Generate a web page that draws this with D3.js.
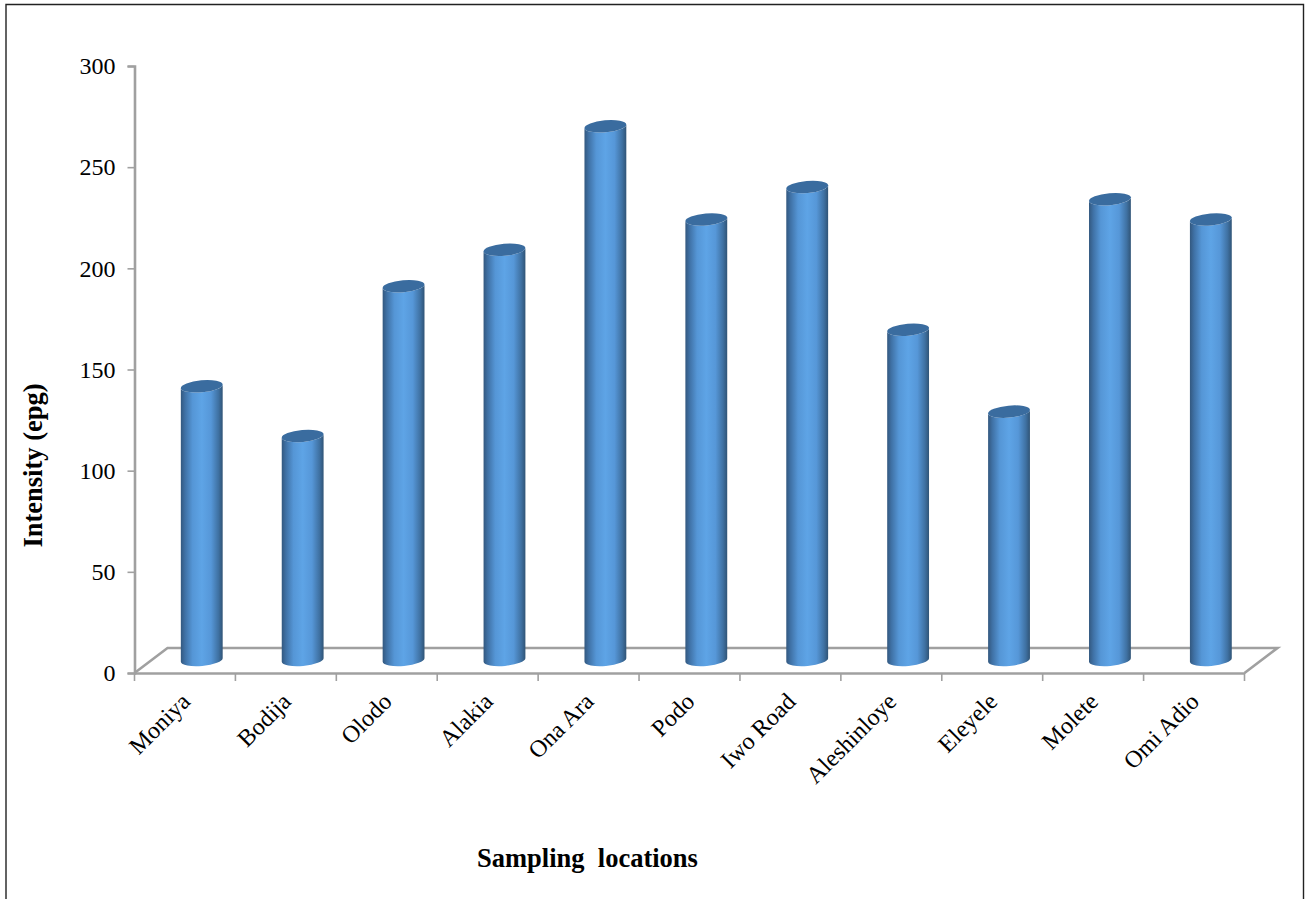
<!DOCTYPE html>
<html>
<head>
<meta charset="utf-8">
<script src="https://cdn.jsdelivr.net/npm/d3@7"></script>
<style>
  html, body { margin: 0; padding: 0; background: #fff; }
  svg { display: block; }
  text { font-family: "Liberation Serif", serif; fill: #000; }
</style>
</head>
<body>
<svg id="chart" width="1310" height="899"></svg>
<script>
const locations = ["Moniya", "Bodija", "Olodo", "Alakia", "Ona Ara", "Podo", "Iwo Road", "Aleshinloye", "Eleyele", "Molete", "Omi Adio"];
const intensity = [135.5, 111, 185, 203, 264, 218, 234, 163.5, 123, 228, 218];
const yTicks = [0, 50, 100, 150, 200, 250, 300];
const yAxisTitle = "Intensity (epg)";
const xAxisTitle = "Sampling\u00a0\u00a0locations";

const svg = d3.select("#chart");
const plot = { left: 134.5, right: 1244.5, top: 66, bottom: 673 };
const depth = { dx: 33, dy: -25 };
const grey = "#a0a0a0";

const x = d3.scaleBand().domain(locations).range([plot.left, plot.right]);
const y = d3.scaleLinear().domain([0, 300]).range([plot.bottom, plot.top]);

// Page frame: open at the bottom edge
svg.append("path")
  .attr("d", "M6,899V4.5H1303.5V899")
  .attr("fill", "none").attr("stroke", "#222").attr("stroke-width", 1.4);

// Horizontal shading that gives the columns their rounded look
const shade = svg.append("defs").append("linearGradient").attr("id", "cylinder");
[[0, "#33587f"], [0.1, "#3f71a5"], [0.28, "#5596d6"], [0.5, "#5ea4e6"], [0.72, "#5697d8"], [0.9, "#3f71a2"], [1, "#305476"]]
  .forEach(([o, c]) => shade.append("stop").attr("offset", o).attr("stop-color", c));

// Floor of the 3D plot
const floor = d3.path();
floor.moveTo(plot.left, plot.bottom);
floor.lineTo(plot.left + depth.dx, plot.bottom + depth.dy);
floor.lineTo(plot.right + depth.dx, plot.bottom + depth.dy);
floor.lineTo(plot.right, plot.bottom);
svg.append("path").attr("d", floor.toString())
  .attr("fill", "none").attr("stroke", grey).attr("stroke-width", 2.6);

// Axes
const yAxis = svg.append("g")
  .attr("transform", `translate(${plot.left},0)`)
  .call(d3.axisLeft(y).tickValues(yTicks).tickSize(7).tickPadding(12));
const xAxis = svg.append("g")
  .attr("transform", `translate(0,${plot.bottom})`)
  .call(d3.axisBottom(x).tickSize(0).tickFormat(""));

[yAxis, xAxis].forEach(g => {
  g.select(".domain").attr("stroke", grey).attr("stroke-width", 2.6);
  g.selectAll(".tick line").attr("stroke", grey).attr("stroke-width", 1.6);
});
yAxis.selectAll(".tick text").attr("font-size", 24).attr("font-family", "Liberation Serif").attr("fill", "#000");

// Category boundary ticks along the front edge
xAxis.selectAll("line.boundary")
  .data([...locations.map(d => x(d)), plot.right])
  .join("line").attr("class", "boundary")
  .attr("x1", d => d).attr("x2", d => d)
  .attr("y1", 0).attr("y2", 8)
  .attr("stroke", grey).attr("stroke-width", 1.6);

// Columns: tilted ellipses joined by straight sides
const rx = 21, ry = 6, tilt = -5;
const ca = Math.cos(tilt * Math.PI / 180), sa = Math.sin(tilt * Math.PI / 180);
const columns = svg.append("g").selectAll("g")
  .data(locations.map((name, i) => ({ name, value: intensity[i] })))
  .join("g")
  .attr("transform", d => `translate(${x(d.name) + x.bandwidth() / 2 + depth.dx / 2 + 0.3},0)`);

const baseY = y(0) + depth.dy / 2 - 0.6;
columns.append("path")
  .attr("fill", "url(#cylinder)")
  .attr("d", d => {
    const topY = y(d.value) + depth.dy / 2;
    const lx = -rx * ca, ly = -rx * sa, rX = rx * ca, rY = rx * sa;
    return `M${lx},${topY + ly}L${lx},${baseY + ly}` +
      `A${rx},${ry} ${tilt} 0 0 ${rX},${baseY + rY}` +
      `L${rX},${topY + rY}` +
      `A${rx},${ry} ${tilt} 0 1 ${lx},${topY + ly}Z`;
  });
columns.append("ellipse")
  .attr("rx", rx).attr("ry", ry)
  .attr("fill", "#3a6c9f")
  .attr("transform", d => `translate(0,${y(d.value) + depth.dy / 2}) rotate(${tilt})`);

// Rotated category labels
svg.append("g").selectAll("text")
  .data(locations)
  .join("text")
  .attr("text-anchor", "end")
  .attr("font-size", 24)
  .attr("transform", d => `translate(${x(d) + x.bandwidth() / 2 + 6.5},${plot.bottom + 30}) rotate(-45)`)
  .text(d => d);

// Axis titles
svg.append("text")
  .attr("text-anchor", "middle").attr("font-size", 26.5).attr("font-weight", "bold")
  .attr("transform", "translate(42,465.5) rotate(-90)")
  .text(yAxisTitle);
svg.append("text")
  .attr("x", 477).attr("y", 867).attr("font-size", 26.5).attr("font-weight", "bold")
  .text(xAxisTitle);
</script>
</body>
</html>
